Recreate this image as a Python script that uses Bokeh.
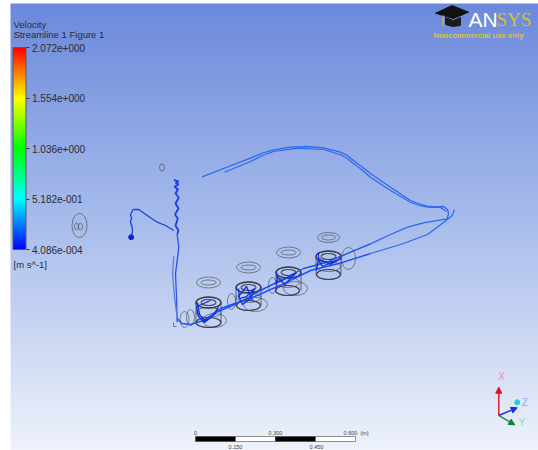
from bokeh.plotting import figure
from bokeh.models import ColorBar, LinearColorMapper, FixedTicker, Arrow, NormalHead
from bokeh.core.properties import value
from bokeh.embed import file_html
from bokeh.resources import INLINE
import numpy as np

# ---- legend ----
legend_title = ["Velocity", "Streamline 1 Figure 1"]
tick_values = [4.086e-4, 5.182e-1, 1.036, 1.554, 2.072]
tick_labels = ["4.086e-004", "5.182e-001", "1.036e+000", "1.554e+000", "2.072e+000"]
unit_label = "[m s^-1]"
rainbow_stops = [(0, 0, 255), (0, 255, 255), (0, 255, 0), (255, 255, 0), (255, 0, 0)]

# ---- streamlines (picture pixels) ----
upper_a_x = [201.7, 223, 250, 262, 273, 290, 306.7, 323, 340, 347, 353, 361, 370, 390, 410, 419, 426.7, 436, 443, 447, 448, 446.7, 423, 407, 390, 370, 350, 326.7, 303, 280, 260, 236.7, 213, 203]
upper_a_y = [176.3, 168, 157.7, 152.5, 149.3, 146.7, 146, 147.3, 151.7, 155, 160, 166, 173, 186.7, 200, 203.5, 205.7, 206.5, 206, 209, 213, 218.3, 222.3, 226.7, 234, 243.3, 251.7, 261.7, 268, 280, 290, 303, 313, 321.7]
upper_b_x = [224, 250, 262, 273, 297, 323, 340, 347, 353, 361, 370, 390, 410, 419, 427, 440, 446]
upper_b_y = [171.7, 161, 155, 151, 147.7, 149, 154.3, 158, 163, 169, 176.7, 190, 201.7, 205, 206.7, 207, 211]
tail_x = [454, 451.7, 443, 427, 400, 370, 343, 310, 286.7, 256.7, 220, 203, 190, 181.7, 176.7]
tail_y = [209, 215, 222, 234, 244, 253, 261.7, 270, 281.7, 295, 308, 320, 324, 323, 318]
riser_x = [176.7, 176, 175, 178.3, 176.7, 178, 175, 177.3, 174.5, 178, 175, 178.3, 175, 177.5, 174, 178, 175, 178.3, 173.3]
riser_y = [321.7, 296.7, 273.3, 246.7, 234, 230, 225, 218, 214, 208, 203, 197, 193, 189, 186, 184, 182, 181, 179.3]
riser2_x = [173.3, 172, 174, 176]
riser2_y = [255.7, 273.3, 296.7, 311.7]
hook_x = [130.7, 132, 131.7, 130, 131, 130, 132.7, 138.3, 146.7, 156.7, 165, 173.3]
hook_y = [236.7, 231, 226.7, 222, 218, 214, 209, 209, 215, 221.7, 225, 230]
scrib1_x = [197, 199, 204, 212, 218, 214, 204, 198, 196, 210]
scrib1_y = [302, 314, 320, 316, 306, 314, 322, 316, 306, 300]
scrib2_x = [238, 239, 246, 254, 250, 242, 238, 246, 252]
scrib2_y = [288, 298, 296, 288, 298, 304, 296, 286, 300]
scrib3_x = [276, 277, 286, 296, 284, 277, 276]
scrib3_y = [272, 282, 278, 272, 284, 276, 284]
scrib4_x = [316, 318, 330, 340, 322, 318, 318]
scrib4_y = [270, 258, 264, 258, 266, 260, 252]

# ---- geometry outlines: centre x, centre y, width, height (picture pixels) ----
ring_x = [208, 248, 288, 328, 208, 248, 288, 328, 208, 248, 287, 328, 208, 248, 287, 328, 208, 248, 288, 328, 184, 190, 231, 272, 348, 214, 255, 295, 161.5, 79, 76, 80]
ring_y = [282, 267, 252, 237, 302, 287, 272, 256, 312, 297, 282, 266, 322, 305, 290, 274, 282, 267, 252, 237, 319, 317, 301, 285, 258, 320, 304, 288, 167, 225, 226, 226]
ring_w = [24, 24, 24, 22, 25, 25, 25, 25, 25, 24, 24, 24, 25, 24, 24, 24, 15, 15, 15, 14, 9, 8, 8, 8, 14, 24, 24, 24, 5, 15, 4, 4]
ring_h = [11, 11, 11, 10, 11, 11, 11, 11, 10, 10, 10, 10, 10, 10, 10, 10, 5, 5, 5, 5, 16, 16, 16, 16, 22, 14, 14, 14, 7, 24, 7, 7]
inner_w = [15, 15, 15, 15]
inner_h = [6, 6, 6, 6]
corner_x = [173, 173, 176]
corner_y = [322, 326, 326]

# ---- scale bar ----
scale_edges = [195, 235, 275, 315, 355]
scale_top_labels = ["0", "0.300", "0.600"]
scale_top_x = [195, 275, 350]
scale_low_labels = ["0.150", "0.450"]
scale_low_x = [235, 316]

W, H = 538, 450
p = figure(width=W, height=H, output_backend="svg", toolbar_location=None,
           x_range=(0, W), y_range=(H, 0), min_border=0,
           x_axis_type=None, y_axis_type=None)
p.grid.visible = False
p.outline_line_color = None
p.background_fill_color = "white"
p.border_fill_color = "white"

# background gradient
top_c, mid_c, bot_c = np.array([108, 137, 220]), np.array([170, 190, 236]), np.array([238, 242, 251])
rows = 220
img = np.zeros((rows, 1), dtype=np.uint32)
view = img.view(np.uint8).reshape(rows, 1, 4)
for i in range(rows):
    t = i / (rows - 1)  # 0 = top
    c = top_c + (mid_c - top_c) * t * 2 if t < .5 else mid_c + (bot_c - mid_c) * (t - .5) * 2
    view[i, 0, :3] = c.astype(np.uint8)
    view[i, 0, 3] = 255
p.image_rgba(image=[img], x=10, y=3, dw=528, dh=447, dw_units="data", dh_units="data")

# outlines
p.ellipse(ring_x, ring_y, width=ring_w, height=ring_h, fill_color=None, line_color="#50555f", line_width=1, line_alpha=.7)
p.ellipse(ring_x[4:8], ring_y[4:8], width=ring_w[4:8], height=ring_h[4:8], fill_color=None, line_color="#25282e", line_width=1.5, line_alpha=.8)
p.ellipse(ring_x[4:8], ring_y[4:8], width=inner_w, height=inner_h, fill_color=None, line_color="#25282e", line_width=1.1, line_alpha=.8)
p.ellipse(ring_x[12:16], ring_y[12:16], width=ring_w[12:16], height=ring_h[12:16], fill_color=None, line_color="#25282e", line_width=1.2, line_alpha=.75)
wall_left = [x - w / 2 for x, w in zip(ring_x[4:8], ring_w[4:8])]
wall_right = [x + w / 2 for x, w in zip(ring_x[4:8], ring_w[4:8])]
p.segment(wall_left, ring_y[4:8], wall_left, ring_y[12:16], line_color="#30343c", line_width=1, line_alpha=.7)
p.segment(wall_right, ring_y[4:8], wall_right, ring_y[12:16], line_color="#30343c", line_width=1, line_alpha=.7)
p.line(corner_x, corner_y, line_color="#707580", line_width=1)

# streamlines
blue = "#1c50f0"
p.line(upper_a_x[:26], upper_a_y[:26], line_color="#2a68ee", line_width=1.3)
p.line(upper_b_x, upper_b_y, line_color="#2a68ee", line_width=1.2)
p.line(upper_a_x[25:], upper_a_y[25:], line_color=blue, line_width=1.4)
p.line(tail_x[:6], tail_y[:6], line_color="#2a68ee", line_width=1.2)
p.line(tail_x[5:], tail_y[5:], line_color=blue, line_width=1.4)
p.line(riser_x[:5], riser_y[:5], line_color="#2c50e8", line_width=1.3)
p.line(riser_x[4:], riser_y[4:], line_color="#1c3ce8", line_width=1.8)
p.line(riser2_x, riser2_y, line_color="#5a7cea", line_width=1.3)
p.line(hook_x, hook_y, line_color="#2040e0", line_width=1.3)
p.scatter([130.7], [236.7], size=5, color="#1020d8")
for sx, sy in [(scrib1_x, scrib1_y), (scrib2_x, scrib2_y), (scrib3_x, scrib3_y), (scrib4_x, scrib4_y)]:
    p.line(sx, sy, line_color="#1030e8", line_width=1.3)

# colour bar
def lerp_palette(stops, n):
    pos = np.linspace(0, len(stops) - 1, n)
    arr = np.array(stops, dtype=float)
    out = []
    for q in pos:
        i = min(int(q), len(stops) - 2)
        c = arr[i] + (arr[i + 1] - arr[i]) * (q - i)
        out.append("#%02x%02x%02x" % tuple(int(v) for v in c))
    return out

mapper = LinearColorMapper(palette=lerp_palette(rainbow_stops, 256), low=tick_values[0], high=tick_values[-1])
cb = ColorBar(color_mapper=mapper, ticker=FixedTicker(ticks=tick_values),
              major_label_overrides=dict(zip(tick_values, tick_labels)),
              width=13, height=202, location=(12.5, 450 - 249), padding=0, margin=0,
              background_fill_alpha=0, bar_line_color="#555a66", bar_line_width=1,
              major_tick_line_color="#333333", major_tick_in=0, major_tick_out=3,
              minor_tick_line_color=None, label_standoff=3,
              major_label_text_font="Liberation Sans", major_label_text_font_size="10px",
              major_label_text_color="#2b2b33")
p.add_layout(cb)

tf = value("Liberation Sans")
p.text([13, 13], [24, 34], text=legend_title, text_font=tf, text_font_size="9.5px", text_color="#2b2b33", text_baseline="middle")
p.text([13], [264], text=[unit_label], text_font=tf, text_font_size="9.5px", text_color="#2b2b33", text_baseline="middle")

# logo
p.patch([435, 451.7, 468, 453], [12.7, 5, 11.7, 18], color="#111111")
p.patch([445, 445, 452, 460, 460, 453], [17, 24, 26, 25, 17, 20], color="#1c1c1c")
p.line([442.7, 442.7], [15, 26], line_color="#c9b02e", line_width=1.5)
p.text([468], [19], text=["AN"], text_font=tf, text_font_size="21px", text_color="white", text_baseline="middle")
p.text([496], [19], text=["SYS"], text_font=value("Liberation Serif"), text_font_size="19px", text_color="#d8bf2c", text_baseline="middle")
p.text([433], [35], text=["Noncommercial use only"], text_font=tf, text_font_size="7.6px", text_font_style="bold", text_color="#d8c52e", text_baseline="middle")

# scale bar
bar_top, bar_bot = 436, 441
p.quad(left=scale_edges[:-1], right=scale_edges[1:], top=bar_top, bottom=bar_bot,
       fill_color=["black", "white", "black", "white"], line_color="#444444", line_width=.6)
p.text(scale_top_x, [432] * 3, text=scale_top_labels, text_font=tf, text_font_size="5.5px", text_color="#444444", text_align="center", text_baseline="middle")
p.text([364], [432], text=["(m)"], text_font=tf, text_font_size="5.5px", text_color="#444444", text_align="center", text_baseline="middle")
p.text(scale_low_x, [446] * 2, text=scale_low_labels, text_font=tf, text_font_size="5.5px", text_color="#444444", text_align="center", text_baseline="middle")

# triad
for (ex, ey, col) in [(498.3, 386.7, "#e01020"), (516.7, 407.3, "#1030e0"), (514.3, 424.3, "#108030")]:
    p.add_layout(Arrow(end=NormalHead(size=6, fill_color=col, line_color=col), x_start=498.3, y_start=415, x_end=ex, y_end=ey, line_color=col, line_width=1.4))
p.scatter([516.7], [401.7], size=5, color="#20d0d8")
p.text([501, 524.3, 521.7], [376, 401.7, 422.3], text=["X", "Z", "Y"], text_font=tf, text_font_size="10px",
       text_color=["#f08a98", "#9aa8f4", "#8fe0a8"], text_align="center", text_baseline="middle")

open("out.html", "w").write(file_html(p, INLINE))
